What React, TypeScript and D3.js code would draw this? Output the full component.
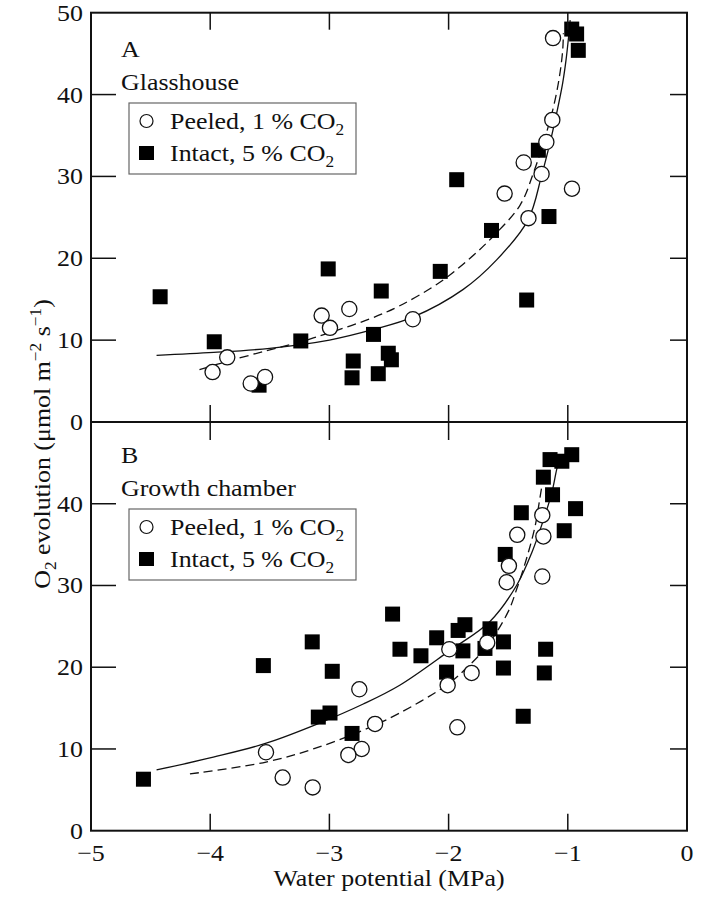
import React from 'react';
import * as d3 from 'd3';

const xTicks = [-5, -4, -3, -2, -1, 0];
const yTicksA = [0, 10, 20, 30, 40, 50];
const yTicksB = [0, 10, 20, 30, 40];
const innerTicks = [10, 20, 30, 40];
const innerXTicks = [-4, -3, -2, -1];

const peeledA: [number, number][] = [
  [-1.124, 46.9], [-1.13, 36.9], [-1.18, 34.2], [-1.37, 31.7], [-1.22, 30.3], [-1.53, 27.9],
  [-0.965, 28.5], [-1.33, 24.9], [-2.3, 12.55], [-3.065, 13.0], [-2.995, 11.5], [-2.833, 13.8],
  [-3.857, 7.9], [-3.98, 6.1], [-3.66, 4.7], [-3.54, 5.5],
];
const intactA: [number, number][] = [
  [-0.967, 48.0], [-0.926, 47.4], [-0.912, 45.4], [-1.247, 33.2], [-1.932, 29.6], [-1.158, 25.1],
  [-1.64, 23.4], [-2.07, 18.4], [-1.345, 14.9], [-2.565, 16.0], [-4.42, 15.3], [-3.966, 9.8],
  [-3.01, 18.7], [-3.24, 9.9], [-2.63, 10.7], [-2.8, 7.45], [-2.81, 5.4], [-2.506, 8.4],
  [-2.48, 7.6], [-2.59, 5.9], [-3.59, 4.5],
];
const peeledB: [number, number][] = [
  [-1.214, 38.6], [-1.205, 36.0], [-1.424, 36.2], [-1.494, 32.4], [-1.513, 30.4], [-1.214, 31.1],
  [-1.994, 22.2], [-1.676, 23.0], [-1.807, 19.3], [-2.008, 17.8], [-1.927, 12.65], [-2.617, 13.06],
  [-2.749, 17.3], [-2.729, 10.0], [-2.841, 9.27], [-3.532, 9.6], [-3.392, 6.5], [-3.14, 5.3],
];
const intactB: [number, number][] = [
  [-0.967, 46.0], [-1.05, 45.2], [-1.149, 45.4], [-1.205, 43.25], [-1.128, 41.1], [-0.935, 39.4],
  [-1.39, 38.9], [-1.03, 36.7], [-1.525, 33.8], [-2.47, 26.5], [-2.1, 23.6], [-1.92, 24.5],
  [-1.863, 25.2], [-1.653, 24.7], [-2.408, 22.2], [-2.232, 21.4], [-1.88, 22.0], [-1.695, 22.3],
  [-1.54, 23.1], [-1.54, 19.9], [-2.017, 19.4], [-1.186, 22.2], [-1.197, 19.3], [-1.374, 14.0],
  [-3.554, 20.2], [-3.144, 23.1], [-2.976, 19.5], [-3.093, 13.9], [-2.995, 14.4], [-2.81, 11.9],
  [-4.56, 6.3],
];

const fitSolidA: [number, number][] = [
  [-4.45, 8.15], [-3.97, 8.5], [-3.5, 9.0], [-3.0, 10.0], [-2.63, 11.3], [-2.3, 12.8],
  [-1.877, 16.2], [-1.597, 19.8], [-1.334, 24.66], [-1.219, 30.16], [-1.144, 34.44],
  [-1.088, 38.1], [-1.043, 41.4], [-1.015, 44.2], [-0.993, 47.1], [-0.98, 49.1],
];
const fitDashedA: [number, number][] = [
  [-4.09, 6.4], [-3.857, 7.4], [-3.53, 8.7], [-3.24, 9.8], [-3.0, 10.9], [-2.66, 12.6],
  [-2.41, 14.2], [-2.07, 17.1], [-1.82, 20.0], [-1.625, 22.7], [-1.4, 26.5], [-1.289, 30.4],
  [-1.19, 34.8], [-1.12, 38.5], [-1.07, 42.2], [-1.043, 45.4], [-1.037, 47.5],
];
const fitSolidB: [number, number][] = [
  [-4.45, 7.43], [-3.974, 9.0], [-3.53, 10.7], [-3.093, 13.1], [-2.716, 15.5], [-2.41, 17.8],
  [-1.994, 22.0], [-1.653, 25.6], [-1.43, 30.0], [-1.304, 33.95], [-1.205, 38.0], [-1.135, 41.3],
  [-1.094, 44.15], [-1.065, 45.8],
];
const fitDashedB: [number, number][] = [
  [-4.17, 6.94], [-3.532, 8.4], [-3.135, 10.0], [-2.716, 12.3], [-2.41, 14.4], [-2.008, 17.9],
  [-1.85, 19.9], [-1.676, 22.6], [-1.5, 26.8], [-1.43, 29.5], [-1.346, 33.3], [-1.275, 37.2],
  [-1.234, 40.7], [-1.205, 43.3],
];

const FONT = "'Liberation Serif', 'Times New Roman', serif";
const SX = 1.08;

const L = 91, R = 687, TOP = 12.7, MID = 422, BOT = 830.7;
const x = d3.scaleLinear().domain([-5, 0]).range([L, R]);
const yA = d3.scaleLinear().domain([0, 50]).range([MID, TOP]);
const yB = d3.scaleLinear().domain([0, 50]).range([BOT, MID]);

function T({ x, y, size = 24, anchor = 'start', rotate = 0, children }: any) {
  return (
    <g transform={`translate(${x},${y}) rotate(${rotate}) scale(${SX},1)`}>
      <text fontSize={size} textAnchor={anchor} fontFamily={FONT} fill="#111">{children}</text>
    </g>
  );
}

function Panel({ y, peeled, intact, solid, dashed, letter, title, legTop }: any) {
  const line = d3.line<[number, number]>().x(d => x(d[0])).y(d => y(d[1])).curve(d3.curveCatmullRom.alpha(0.5));
  const s = 15;
  return (
    <g>
      <path d={line(solid) || ''} fill="none" stroke="#111" strokeWidth={1.3} />
      <path d={line(dashed) || ''} fill="none" stroke="#111" strokeWidth={1.3} strokeDasharray="9,5" />
      {intact.map((d: [number, number], i: number) => (
        <rect key={'s' + i} x={x(d[0]) - s / 2} y={y(d[1]) - s / 2} width={s} height={s} fill="#000" />
      ))}
      {peeled.map((d: [number, number], i: number) => (
        <circle key={'c' + i} cx={x(d[0])} cy={y(d[1])} r={7.6} fill="#fff" stroke="#111" strokeWidth={1.3} />
      ))}
      <T x={121} y={legTop - 46}>{letter}</T>
      <T x={121} y={legTop - 13}>{title}</T>
      <rect x={129} y={legTop} width={227} height={71} fill="#fff" stroke="#666" strokeWidth={1.2} />
      <circle cx={146.5} cy={legTop + 18} r={6.5} fill="#fff" stroke="#111" strokeWidth={1.2} />
      <rect x={139} y={legTop + 43} width={15} height={14} fill="#000" />
      <T x={170} y={legTop + 26}>Peeled, 1 % CO<tspan fontSize={16} dy={6}>2</tspan></T>
      <T x={170} y={legTop + 58}>Intact, 5 % CO<tspan fontSize={16} dy={6}>2</tspan></T>
    </g>
  );
}

export default function App() {
  return (
    <svg width={704} height={899} style={{ position: 'absolute', left: 0, top: 0, background: '#fff' }}>
      <rect x={0} y={0} width={704} height={899} fill="#fff" />
      <Panel y={yA} peeled={peeledA} intact={intactA} solid={fitSolidA} dashed={fitDashedA}
        letter="A" title="Glasshouse" legTop={103} />
      <Panel y={yB} peeled={peeledB} intact={intactB} solid={fitSolidB} dashed={fitDashedB}
        letter="B" title="Growth chamber" legTop={509} />
      {/* frame */}
      <rect x={L} y={TOP} width={R - L} height={BOT - TOP} fill="none" stroke="#111" strokeWidth={2} />
      <line x1={L} x2={R} y1={MID} y2={MID} stroke="#111" strokeWidth={2} />
      {/* y ticks */}
      {innerTicks.map(v => (
        <g key={'yt' + v}>
          <line x1={L} x2={L + 25} y1={yA(v)} y2={yA(v)} stroke="#111" strokeWidth={1.5} />
          <line x1={R} x2={R - 17} y1={yA(v)} y2={yA(v)} stroke="#111" strokeWidth={1.5} />
          <line x1={L} x2={L + 25} y1={yB(v)} y2={yB(v)} stroke="#111" strokeWidth={1.5} />
          <line x1={R} x2={R - 17} y1={yB(v)} y2={yB(v)} stroke="#111" strokeWidth={1.5} />
        </g>
      ))}
      {/* x ticks */}
      {innerXTicks.map(v => (
        <g key={'xt' + v}>
          <line x1={x(v)} x2={x(v)} y1={TOP} y2={TOP + 17} stroke="#111" strokeWidth={1.5} />
          <line x1={x(v)} x2={x(v)} y1={MID} y2={MID - 17} stroke="#111" strokeWidth={1.5} />
          <line x1={x(v)} x2={x(v)} y1={MID} y2={MID + 18} stroke="#111" strokeWidth={1.5} />
          <line x1={x(v)} x2={x(v)} y1={BOT} y2={BOT - 17} stroke="#111" strokeWidth={1.5} />
        </g>
      ))}
      {/* tick labels */}
      {yTicksA.map(v => (
        <T key={'la' + v} x={83} y={yA(v) + 8} anchor="end">{String(v)}</T>
      ))}
      {yTicksB.map(v => (
        <T key={'lb' + v} x={83} y={yB(v) + 8} anchor="end">{String(v)}</T>
      ))}
      {xTicks.map(v => (
        <T key={'lx' + v} x={x(v)} y={861} anchor="middle">{v < 0 ? '\u2212' + Math.abs(v) : String(v)}</T>
      ))}
      <T x={(L + R) / 2} y={886} anchor="middle">Water potential (MPa)</T>
      <T x={50} y={444} anchor="middle" rotate={-90}>
        O<tspan fontSize={16} dy={6}>2</tspan><tspan dy={-6}> evolution (μmol m</tspan>
        <tspan fontSize={16} dy={-9}>−2</tspan><tspan dy={9}> s</tspan>
        <tspan fontSize={16} dy={-9}>−1</tspan><tspan dy={9}>)</tspan>
      </T>
    </svg>
  );
}
